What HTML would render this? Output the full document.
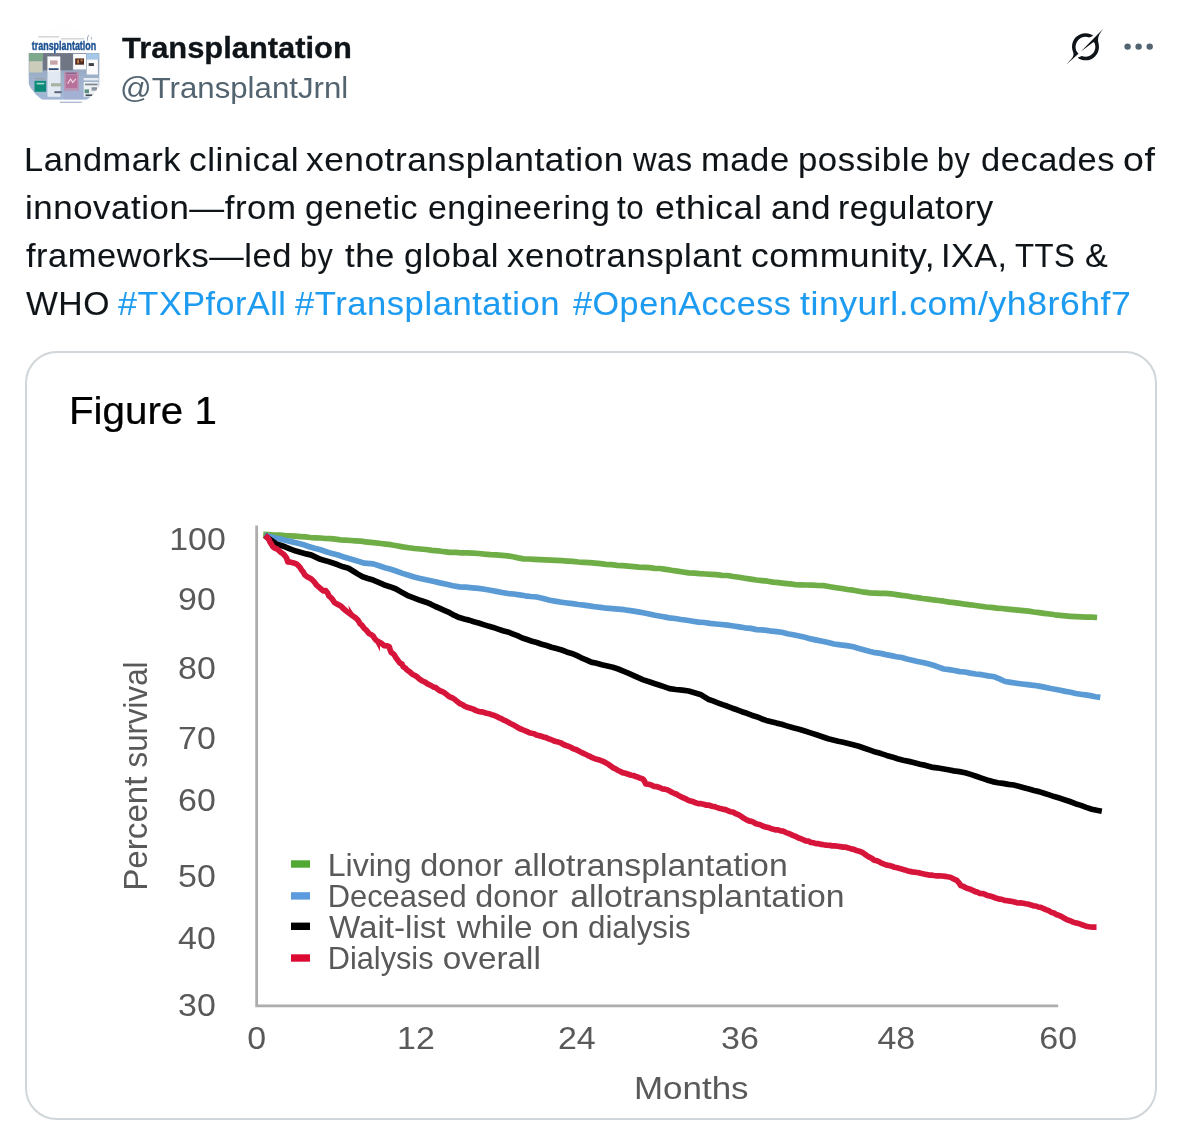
<!DOCTYPE html>
<html lang="en">
<head>
<meta charset="utf-8">
<title>Transplantation on X</title>
<style>
html,body{margin:0;padding:0;background:#fff;}
body{width:1180px;height:1136px;position:relative;overflow:hidden;font-family:"Liberation Sans",Arial,sans-serif;color:#0f1419;}
.abs{position:absolute;white-space:nowrap;}
.t{position:absolute;white-space:nowrap;transform-origin:0 0;display:inline-block;}
#name{left:121.5px;top:27.8px;font-size:29.6px;line-height:40px;font-weight:bold;color:#0f1419;transform:scaleX(1.043);-webkit-text-stroke:0.3px currentColor;}
#handle{left:119.6px;top:67.9px;font-size:30px;line-height:40px;color:#536471;transform:scaleX(1.04);}
.ln{position:absolute;left:0;width:1180px;height:48px;font-size:32.5px;line-height:48px;color:#0f1419;letter-spacing:0.5px;-webkit-text-stroke:0.08px currentColor;}
.w{position:absolute;top:0;white-space:pre;transform-origin:0 0;display:inline-block;}
.lk{color:#1d9bf0;text-decoration:none;}
#card{position:absolute;left:25px;top:351px;width:1128px;height:765px;border:2px solid #d0d6d9;border-radius:32px;background:#fff;}
#chart{position:absolute;left:0;top:0;}
#chart text{font-family:"Liberation Sans",Arial,sans-serif;fill:#595959;}
#chart .cv path{fill:none;stroke-width:5.7;stroke-linejoin:round;stroke-linecap:butt;}
</style>
</head>
<body>
<svg id="avatar" class="abs" style="left:24px;top:26px" width="81" height="81" viewBox="24 26 81 81">
<defs>
<clipPath id="avc"><circle cx="64.5" cy="66.2" r="40.3"/></clipPath>
<linearGradient id="avbg" x1="0" y1="0" x2="0" y2="1"><stop offset="0" stop-color="#8c98ab"/><stop offset="0.5" stop-color="#9db1cb"/><stop offset="1" stop-color="#a3b8d6"/></linearGradient>
<filter id="avblur" x="-5%" y="-5%" width="110%" height="110%"><feGaussianBlur stdDeviation="0.6"/></filter>
</defs>
<g clip-path="url(#avc)">
<rect x="24" y="26" width="81" height="81" fill="#fefefe"/>
<g filter="url(#avblur)">
<rect x="38.2" y="36.3" width="21" height="1.1" fill="#c4c8ce"/>
<rect x="61" y="38.3" width="23.3" height="1.1" fill="#c4c8ce"/>
<path d="M89.6,34 q-4.2,3.6 -1.4,8.4 q-1.2,-4.6 1.4,-8.400000000000001z" fill="#7c8ea3"/>
<path d="M91.2,35.6 q1.8,2.6 0,5.4 q0.5,-2.8 0,-5.4z" fill="#6f86a0"/>
<rect x="28.7" y="53" width="70.6" height="46.6" fill="url(#avbg)"/>
<rect x="29" y="53.3" width="14" height="7.6" fill="#7fa98b"/>
<rect x="29.3" y="61.3" width="13" height="11.2" fill="#ccccbb"/>
<rect x="43" y="53.3" width="29.8" height="17" fill="#6f7683"/>
<rect x="47.5" y="71.7" width="13" height="25.1" fill="#e3e9f2"/>
<rect x="47.4" y="56.4" width="12.9" height="15.4" fill="#fbfbfc"/>
<rect x="50.1" y="60.4" width="7.5" height="4.3" fill="#c5a3a8"/>
<rect x="48.7" y="68.2" width="9.9" height="1.9" fill="#33507c"/>
<rect x="51" y="83.2" width="10.6" height="3.2" fill="#a9b3a4"/>
<rect x="54.4" y="91.2" width="7.2" height="2" fill="#59657a"/>
<rect x="73.2" y="54" width="12.8" height="15.4" fill="#fbfbfc"/>
<rect x="75.2" y="58.4" width="8.8" height="6.3" fill="#4e2a22"/>
<rect x="77.2" y="59.6" width="1.8" height="3.8" fill="#c9824e"/>
<rect x="80.6" y="59.4" width="2" height="2" fill="#c9824e"/>
<rect x="86.4" y="53.3" width="12.4" height="6.3" fill="#a5c8e8"/>
<rect x="86.7" y="59.5" width="11.2" height="15" fill="#fbfbfc"/>
<rect x="88.7" y="63.1" width="5.2" height="2.9" fill="#3e4046"/>
<rect x="64" y="71.7" width="15" height="19.2" fill="#b994b3"/>
<rect x="65.8" y="74.6" width="11.4" height="13.4" fill="#b6709a"/>
<rect x="65.6" y="72.6" width="11" height="1.2" fill="#7d5a86"/>
<path d="M67.6,83.6 l3,-4.6 l2.2,3.4 l3,-3.600000000000001" stroke="#f0d2e2" stroke-width="1.2" fill="none"/>
<rect x="64" y="90.8" width="19.6" height="8.4" fill="#a3b2d4"/>
<rect x="34.8" y="77.8" width="10.8" height="1.6" fill="#9aa5ad"/>
<rect x="34.5" y="80.8" width="11.6" height="11" fill="#108a77"/>
<rect x="36.6" y="82.8" width="7.6" height="1.6" fill="#9fdacb"/>
<rect x="83.7" y="78" width="14.9" height="2.4" fill="#e6ecf2"/>
<rect x="83.7" y="82" width="14.9" height="14.8" fill="#eef1f4"/>
<rect x="84.6" y="89.4" width="4.4" height="3.8" fill="#5d8f80"/>
<rect x="85" y="83.6" width="12.6" height="1.7" fill="#7d8792"/>
<rect x="91.6" y="87.2" width="5.4" height="3.4" fill="#8a949e"/>
<rect x="85.6" y="94.4" width="7" height="1.7" fill="#3e4854"/>
<rect x="59.9" y="101.7" width="22.4" height="1.1" fill="#9dabc6"/>
</g>
<text x="31.8" y="50.2" font-family="'Liberation Sans',Arial,sans-serif" font-weight="bold" font-size="12.8" fill="#1a4f90" stroke="#1a4f90" stroke-width="0.4" textLength="64.4" lengthAdjust="spacingAndGlyphs">transplantation</text>
</g>
</svg>

<div id="name" class="t">Transplantation</div>
<div id="handle" class="t">@TransplantJrnl</div>
<div class="ln" id="l1" style="top:135.9px"><span class="w" style="left:24.33px;transform:scaleX(1.0574)">Landmark </span><span class="w" style="left:189.41px;transform:scaleX(1.0851)">clinical </span><span class="w" style="left:306.42px;transform:scaleX(1.0845)">xenotransplantation </span><span class="w" style="left:633.2px;transform:scaleX(1.0052)">was </span><span class="w" style="left:701.27px;transform:scaleX(1.0642)">made </span><span class="w" style="left:797.56px;transform:scaleX(1.0695)">possible </span><span class="w" style="left:937.42px;transform:scaleX(0.9385)">by </span><span class="w" style="left:981.34px;transform:scaleX(1.0605)">decades </span><span class="w" style="left:1122.85px;transform:scaleX(1.1547)">of</span></div>
<div class="ln" id="l2" style="top:183.9px"><span class="w" style="left:24.65px;transform:scaleX(1.0727)">innovation—from </span><span class="w" style="left:304.76px;transform:scaleX(1.0443)">genetic </span><span class="w" style="left:427.76px;transform:scaleX(1.039)">engineering </span><span class="w" style="left:617.0px;transform:scaleX(0.9623)">to </span><span class="w" style="left:655.1px;transform:scaleX(1.1021)">ethical </span><span class="w" style="left:770.92px;transform:scaleX(1.0788)">and </span><span class="w" style="left:837.92px;transform:scaleX(1.041)">regulatory</span></div>
<div class="ln" id="l3" style="top:231.9px"><span class="w" style="left:26.1px;transform:scaleX(1.06)">frameworks—led </span><span class="w" style="left:299.52px;transform:scaleX(0.9385)">by </span><span class="w" style="left:344.7px;transform:scaleX(1.0711)">the </span><span class="w" style="left:403.94px;transform:scaleX(1.059)">global </span><span class="w" style="left:506.73px;transform:scaleX(1.0673)">xenotransplant </span><span class="w" style="left:750.91px;transform:scaleX(1.0912)">community, </span><span class="w" style="left:940.85px;transform:scaleX(1.0504)">IXA, </span><span class="w" style="left:1015.34px;transform:scaleX(0.96)">TTS </span><span class="w" style="left:1084.75px;transform:scaleX(1.05)">&amp;</span></div>
<div class="ln" id="l4" style="top:279.9px"><span class="w" style="left:26.0px;transform:scaleX(1.038)">WHO </span><span class="w lk" style="left:118.0px;transform:scaleX(1.0508)">#TXPforAll </span><span class="w lk" style="left:295.0px;transform:scaleX(1.0649)">#Transplantation </span><span class="w lk" style="left:572.5px;transform:scaleX(1.051)">#OpenAccess </span><span class="w lk" style="left:800.0px;transform:scaleX(1.0948)">tinyurl.com/yh8r6hf7</span></div>
<div id="card"></div>
<svg id="chart" width="1180" height="1136" viewBox="0 0 1180 1136">
<text id="fig" transform="translate(68.9,424.1) scale(1.035,1)" font-size="39" style="fill:#000;stroke:#000;stroke-width:0.25">Figure 1</text>
<g font-size="31.6" text-anchor="middle">
<text transform="translate(197.5,550) scale(1.075,1)">100</text>
<text transform="translate(197,610) scale(1.075,1)">90</text>
<text transform="translate(197,679.4) scale(1.075,1)">80</text>
<text transform="translate(197,749.2) scale(1.075,1)">70</text>
<text transform="translate(197,811.2) scale(1.075,1)">60</text>
<text transform="translate(197,887.4) scale(1.075,1)">50</text>
<text transform="translate(197,949.2) scale(1.075,1)">40</text>
<text transform="translate(197,1016) scale(1.075,1)">30</text>
<text transform="translate(256.7,1048.6) scale(1.075,1)">0</text>
<text transform="translate(415.9,1048.6) scale(1.075,1)">12</text>
<text transform="translate(576.8,1048.6) scale(1.075,1)">24</text>
<text transform="translate(739.9,1048.6) scale(1.075,1)">36</text>
<text transform="translate(896.3,1048.6) scale(1.075,1)">48</text>
<text transform="translate(1058.2,1048.6) scale(1.075,1)">60</text>
</g>
<text id="months" transform="translate(634,1098.6) scale(1.099,1)" font-size="31.8">Months</text>
<g id="ylab" transform="translate(146.6,887.8) rotate(-90)" font-size="32.5" style="white-space:pre"><text transform="translate(-3.07,0) scale(1.022,1)">Percent </text><text transform="translate(120.34,0) scale(0.9617,1)">survival</text></g>
<path d="M256.65,525.6 V1005.9 H1058.2" fill="none" stroke="#adadad" stroke-width="2.8"/>
<g class="cv">
<path d="M263.2,534.4 L268.7,534.7 L274.2,535.0 L279.7,535.1 L285.1,535.6 L290.2,535.8 L295.3,536.2 L300.3,536.6 L305.3,536.9 L310.4,537.5 L315.4,537.8 L320.4,538.0 L325.5,538.5 L330.4,538.7 L335.5,539.2 L340.5,539.8 L345.6,540.2 L350.6,540.5 L355.6,540.9 L360.7,541.2 L365.6,541.8 L370.8,542.4 L375.7,542.9 L380.7,543.5 L385.7,544.1 L390.8,544.7 L396.7,545.8 L402.7,546.9 L408.5,547.7 L414.4,548.5 L420.2,549.0 L426.0,549.5 L432.0,550.3 L438.0,550.8 L444.1,551.7 L449.9,552.3 L455.7,552.4 L461.4,552.8 L467.3,552.9 L473.0,553.2 L478.7,553.5 L484.6,554.2 L490.3,554.7 L496.1,554.9 L502.0,555.3 L507.8,555.9 L513.0,556.8 L518.1,557.9 L523.3,558.9 L528.8,559.0 L534.3,559.3 L539.8,559.6 L545.2,559.8 L550.8,560.1 L556.2,560.4 L561.7,560.7 L567.3,561.1 L572.8,561.4 L578.3,562.0 L583.8,562.4 L589.4,562.7 L594.9,563.2 L600.5,563.7 L606.0,564.3 L611.5,564.6 L617.1,565.3 L622.6,565.7 L628.2,566.1 L633.7,566.6 L638.9,567.1 L644.2,567.4 L649.5,567.7 L654.8,568.3 L660.0,568.5 L665.8,569.4 L671.4,570.3 L677.2,571.1 L682.9,572.0 L688.8,572.9 L694.3,573.2 L699.8,573.7 L705.4,574.0 L710.8,574.3 L716.4,574.7 L722.0,575.3 L727.5,575.5 L733.3,576.5 L739.1,577.3 L744.8,578.2 L750.7,579.1 L756.5,580.0 L762.0,580.6 L767.6,581.2 L773.0,582.1 L778.7,582.7 L784.1,583.3 L789.7,583.8 L795.2,584.6 L801.0,584.8 L806.8,585.0 L812.6,585.2 L818.5,585.5 L824.3,585.7 L830.2,586.8 L836.0,587.7 L841.8,588.5 L847.4,589.5 L853.3,590.2 L858.9,591.2 L864.4,592.2 L870.0,592.9 L875.2,593.2 L880.5,593.4 L885.8,593.4 L891.1,593.8 L896.3,594.6 L901.7,595.4 L907.0,596.0 L912.3,597.0 L917.4,597.6 L922.8,598.5 L928.1,599.2 L933.4,599.8 L938.6,600.5 L943.9,601.2 L949.3,602.1 L954.4,602.7 L959.8,603.4 L965.0,604.2 L970.4,604.8 L975.6,605.5 L980.9,606.3 L986.2,607.0 L991.4,607.4 L996.8,608.1 L1002.1,608.5 L1007.4,609.1 L1012.6,609.6 L1017.9,610.2 L1023.2,610.7 L1028.5,611.1 L1033.8,612.0 L1039.0,612.6 L1044.3,613.4 L1049.6,614.0 L1054.9,614.8 L1060.1,615.4 L1065.3,615.9 L1070.7,616.3 L1076.0,616.6 L1081.3,616.9 L1086.5,617.1 L1091.8,617.2 L1097.1,617.5" stroke="#6fae47" />
<path d="M264.5,535.0 L267.5,536.0 L273.4,537.4 L279.2,538.8 L285.3,540.3 L291.1,541.6 L296.9,543.0 L302.7,544.4 L308.6,546.5 L314.6,548.3 L320.5,549.8 L326.2,551.7 L332.2,553.6 L338.1,555.0 L343.9,557.1 L349.7,558.8 L355.6,560.6 L364.5,563.2 L373.2,563.9 L379.1,565.8 L385.0,567.7 L390.8,569.3 L396.7,571.3 L402.5,573.4 L408.6,575.3 L414.2,577.0 L420.1,578.4 L426.0,579.8 L433.1,581.3 L440.0,582.9 L446.5,584.2 L452.9,585.7 L459.4,586.9 L465.9,587.2 L472.2,587.8 L478.8,588.4 L484.5,589.3 L490.3,590.3 L496.1,591.4 L502.1,592.5 L507.8,593.5 L513.5,594.0 L519.5,594.9 L525.2,595.8 L531.0,596.5 L536.8,597.0 L543.3,598.5 L549.7,600.3 L556.2,601.4 L561.6,602.2 L567.3,603.0 L572.7,603.7 L578.4,604.5 L583.8,605.1 L589.3,605.9 L594.9,606.7 L600.6,607.4 L606.5,608.2 L612.3,608.6 L618.2,609.1 L624.1,609.7 L630.4,610.6 L636.8,611.6 L643.2,612.8 L649.2,614.0 L654.9,615.3 L662.1,616.5 L669.3,617.9 L675.1,618.5 L681.1,619.5 L686.9,620.3 L692.7,621.2 L698.5,622.1 L704.2,622.5 L710.0,623.4 L715.9,624.0 L721.6,624.5 L727.6,625.2 L733.4,626.0 L739.1,626.9 L744.9,627.8 L750.8,628.4 L756.6,629.6 L761.6,629.8 L766.7,630.4 L771.7,631.2 L776.6,631.6 L781.7,632.3 L787.5,633.8 L793.2,634.7 L799.2,636.0 L805.0,637.3 L810.8,638.9 L816.6,640.1 L822.4,641.2 L828.2,642.6 L834.1,644.0 L840.4,644.9 L846.8,645.6 L853.3,646.8 L858.9,648.4 L864.4,649.9 L870.1,651.5 L875.2,652.7 L880.6,653.4 L885.9,654.6 L891.2,655.6 L896.4,656.7 L901.8,657.5 L906.9,659.0 L912.3,660.2 L917.5,661.5 L922.9,662.5 L928.2,663.7 L933.4,665.2 L938.6,667.1 L943.8,669.0 L949.1,669.6 L954.5,670.5 L959.8,671.6 L965.1,672.0 L970.3,673.1 L975.6,674.0 L981.9,674.7 L988.2,675.9 L994.6,676.8 L1000.0,679.2 L1005.2,681.5 L1010.8,682.4 L1016.5,683.2 L1022.1,684.0 L1027.8,684.7 L1033.4,685.3 L1039.1,686.1 L1044.3,687.1 L1049.5,688.2 L1054.9,689.2 L1060.2,690.3 L1065.4,691.4 L1070.7,692.3 L1075.6,693.5 L1080.5,694.2 L1085.5,694.9 L1090.3,695.6 L1095.5,696.7 L1100.3,697.4" stroke="#5b9bd5" />
<path d="M265.0,535.5 L267.6,537.7 L272.1,540.9 L276.4,544.0 L285.1,546.8 L290.6,549.1 L295.9,551.1 L301.1,552.5 L306.3,553.9 L311.5,555.1 L320.4,559.3 L326.3,560.9 L332.2,562.8 L338.0,564.8 L343.2,566.8 L348.5,568.3 L353.4,571.3 L358.0,574.1 L362.7,576.8 L367.9,578.5 L373.2,580.1 L378.6,582.3 L383.8,584.7 L389.9,586.7 L396.1,589.0 L402.2,592.6 L408.5,595.9 L414.4,598.1 L420.1,600.3 L426.0,602.2 L430.8,604.2 L435.4,606.5 L439.9,608.4 L444.8,610.6 L449.6,612.7 L454.5,615.4 L459.3,617.6 L464.3,619.0 L469.0,620.1 L473.9,621.7 L478.6,623.0 L483.6,624.6 L488.3,626.1 L493.2,627.4 L498.1,629.1 L502.9,630.7 L507.8,631.9 L512.6,633.8 L517.4,635.7 L522.3,638.0 L527.0,639.5 L532.0,641.2 L536.8,642.5 L541.7,644.2 L546.5,645.5 L551.5,647.2 L556.5,648.6 L561.7,650.0 L566.7,651.9 L571.7,653.4 L576.5,655.4 L581.3,657.8 L586.2,659.8 L591.2,662.1 L596.6,663.3 L601.9,664.8 L607.4,666.0 L612.8,667.3 L618.2,669.0 L623.3,671.1 L628.2,673.1 L633.2,675.3 L638.3,677.7 L643.3,679.9 L649.2,681.8 L655.0,683.7 L659.8,685.3 L664.6,686.9 L669.5,688.6 L675.8,689.5 L682.3,690.2 L688.6,691.0 L694.5,692.7 L700.4,694.4 L708.1,699.2 L712.9,700.9 L717.8,702.8 L722.6,704.6 L727.5,706.3 L732.4,708.2 L737.1,709.8 L741.9,711.7 L746.9,713.3 L751.7,715.2 L756.5,716.7 L761.4,718.7 L766.2,720.4 L771.4,721.8 L776.6,723.1 L781.6,724.2 L787.5,726.1 L793.2,727.8 L799.1,729.2 L804.9,731.0 L810.6,732.9 L816.5,734.8 L822.3,736.7 L828.2,738.8 L833.2,740.0 L838.2,741.3 L843.2,742.2 L848.2,743.4 L853.2,744.7 L858.8,746.3 L864.5,748.2 L870.0,750.1 L875.5,752.1 L881.1,753.6 L886.6,755.4 L892.0,756.9 L897.5,758.8 L903.2,760.3 L908.8,761.4 L914.5,762.7 L920.0,764.2 L925.7,765.4 L931.3,767.1 L936.9,767.8 L942.5,768.7 L948.3,769.8 L953.9,770.9 L959.5,771.6 L965.2,772.7 L970.6,774.4 L976.2,776.3 L981.5,778.1 L986.9,779.9 L992.5,781.6 L997.9,782.7 L1003.0,783.4 L1008.4,784.4 L1013.8,785.0 L1018.7,786.3 L1023.9,787.7 L1028.9,789.1 L1034.0,790.5 L1039.0,791.6 L1044.1,793.3 L1049.2,794.9 L1054.2,796.6 L1059.3,798.1 L1064.4,799.7 L1069.8,801.5 L1075.4,803.7 L1080.9,805.4 L1086.2,807.4 L1091.8,809.2 L1096.8,810.3 L1101.8,811.2" stroke="#000000" />
<path d="M265.0,535.5 L267.8,538.0 L268.9,539.5 L270.0,542.2 L271.6,544.5 L272.8,546.7 L274.8,548.1 L277.1,549.0 L279.0,550.7 L280.9,552.4 L283.3,554.0 L285.4,556.3 L286.8,558.6 L287.8,561.9 L290.7,562.2 L293.0,562.8 L296.1,563.7 L298.4,565.7 L300.0,567.4 L301.6,570.2 L303.4,572.2 L304.7,574.8 L306.9,576.6 L308.6,577.4 L311.1,578.8 L313.0,580.5 L315.2,583.1 L316.7,585.3 L318.8,586.9 L321.0,589.1 L323.2,590.8 L325.8,590.7 L327.6,593.0 L329.1,596.3 L331.1,597.8 L332.7,599.7 L334.3,602.3 L336.0,603.5 L338.7,604.9 L341.1,606.2 L343.3,608.5 L345.9,610.7 L348.6,612.8 L352.2,615.5 L355.6,617.9 L357.0,619.1 L358.7,621.3 L360.0,623.8 L362.0,625.3 L364.2,628.4 L366.6,630.4 L369.0,633.5 L371.0,634.5 L373.4,636.3 L374.5,638.3 L376.0,640.1 L378.6,641.8 L381.5,643.3 L384.1,645.6 L386.8,645.8 L389.2,646.6 L390.0,649.4 L391.2,652.5 L392.6,653.2 L394.4,655.0 L395.8,657.6 L397.8,660.2 L399.9,663.0 L401.8,663.8 L403.1,666.6 L405.0,667.8 L407.1,670.0 L409.0,671.3 L410.8,672.8 L412.9,674.7 L415.3,675.6 L417.4,677.1 L419.6,679.2 L422.4,681.0 L425.1,682.2 L427.5,683.9 L430.2,685.1 L433.3,686.9 L435.6,687.6 L437.8,689.3 L439.8,690.7 L442.7,691.7 L445.2,693.3 L447.4,695.2 L449.7,696.9 L452.6,698.0 L455.0,699.6 L457.3,701.6 L459.7,703.5 L462.4,704.6 L465.0,706.4 L468.0,707.5 L470.5,708.2 L473.3,709.1 L476.2,710.6 L478.9,711.5 L481.2,711.8 L483.9,712.4 L486.5,713.3 L489.0,713.7 L491.5,714.7 L494.0,715.3 L496.3,716.3 L498.6,717.6 L501.0,718.5 L503.2,719.8 L505.7,720.8 L507.7,721.9 L510.0,723.3 L512.5,724.5 L514.6,725.6 L517.0,727.0 L519.5,728.5 L522.1,729.5 L524.7,730.6 L527.2,731.6 L529.5,732.8 L531.7,733.3 L534.2,733.7 L536.4,734.9 L538.8,735.6 L541.2,736.1 L543.5,737.0 L546.1,737.6 L548.4,738.8 L550.8,739.5 L553.5,740.7 L555.8,741.5 L558.3,742.1 L561.1,743.0 L563.5,744.5 L566.0,745.5 L568.4,746.2 L570.7,747.3 L573.3,748.8 L575.7,749.4 L578.0,750.6 L580.5,752.0 L583.0,753.1 L585.3,754.2 L587.5,755.3 L589.8,756.3 L592.3,757.7 L594.8,758.7 L597.6,759.4 L600.0,760.2 L602.3,761.1 L604.7,762.2 L607.1,763.5 L609.2,764.9 L611.2,766.3 L613.3,767.9 L615.5,768.9 L617.7,770.2 L619.8,771.2 L622.5,772.6 L625.3,773.2 L628.3,774.2 L631.2,775.2 L633.4,775.5 L635.8,776.5 L638.3,777.3 L640.6,778.3 L642.9,779.0 L644.4,781.0 L645.7,783.9 L648.6,784.3 L651.2,785.0 L654.1,786.4 L657.0,786.7 L659.5,787.5 L662.2,788.8 L664.9,789.1 L667.4,789.9 L670.1,791.2 L672.3,792.5 L674.5,793.5 L676.8,794.3 L679.2,795.8 L681.3,796.9 L683.6,798.0 L685.6,798.7 L687.9,800.1 L690.4,801.0 L693.0,801.6 L695.7,802.8 L698.2,803.6 L701.1,803.7 L703.7,804.2 L706.6,805.2 L709.1,805.2 L712.0,806.2 L714.5,806.6 L716.6,807.4 L719.1,808.2 L721.5,808.8 L724.0,809.4 L726.4,809.9 L728.5,811.0 L730.8,811.7 L733.2,812.1 L735.4,813.5 L737.7,814.4 L739.9,815.5 L742.2,817.1 L744.4,818.6 L746.8,819.9 L748.9,820.9 L751.4,821.4 L753.5,822.2 L756.0,823.7 L758.1,824.2 L760.2,824.7 L762.7,826.0 L765.0,826.9 L767.1,827.3 L769.8,828.1 L772.5,829.1 L775.2,829.8 L778.0,829.8 L780.8,830.9 L783.4,831.2 L786.0,832.6 L788.4,833.4 L790.8,834.4 L793.4,835.6 L795.9,836.5 L798.6,838.1 L801.1,838.8 L803.6,839.8 L805.8,840.8 L808.4,841.1 L810.8,842.4 L813.3,842.8 L815.9,843.6 L818.7,843.7 L821.3,844.4 L824.1,844.8 L826.7,845.1 L829.6,845.3 L832.2,845.9 L834.8,845.8 L837.8,846.2 L840.3,846.6 L843.2,847.1 L845.9,847.2 L848.4,847.9 L851.1,848.9 L853.9,849.4 L856.5,850.6 L859.3,851.3 L861.9,852.2 L864.4,853.9 L866.8,855.6 L869.4,857.2 L871.8,858.3 L874.2,860.2 L876.8,860.8 L879.0,861.6 L881.7,863.2 L884.1,864.1 L886.7,865.1 L889.3,865.5 L892.0,866.3 L894.5,867.2 L897.3,867.7 L899.9,868.6 L902.3,869.2 L904.8,869.9 L907.3,870.7 L909.9,871.4 L912.3,871.9 L914.7,872.2 L916.9,872.5 L919.5,872.9 L921.7,873.5 L924.2,874.1 L926.6,874.5 L928.8,875.1 L931.4,875.1 L934.0,875.5 L936.6,875.8 L939.6,875.8 L942.2,876.0 L945.0,876.3 L947.5,876.8 L950.3,877.2 L952.4,878.2 L954.4,879.4 L956.6,880.2 L958.8,882.7 L960.8,885.5 L963.2,886.3 L965.6,887.7 L967.8,888.6 L970.4,889.3 L972.8,890.4 L975.2,891.6 L977.5,892.1 L979.9,893.5 L982.4,893.6 L984.9,894.3 L987.3,895.4 L989.9,896.1 L992.5,896.8 L995.0,897.7 L997.3,898.4 L999.8,899.2 L1002.4,899.5 L1004.7,900.5 L1007.2,900.7 L1010.1,901.1 L1012.4,901.5 L1015.3,902.3 L1017.9,903.0 L1020.5,902.9 L1023.4,903.3 L1025.7,903.8 L1028.7,904.3 L1030.9,904.9 L1033.4,905.8 L1035.9,906.0 L1038.2,907.0 L1040.8,907.4 L1043.1,908.3 L1045.9,909.6 L1048.6,910.7 L1051.0,912.2 L1053.9,912.9 L1056.1,914.5 L1058.7,915.3 L1061.2,916.4 L1063.5,917.8 L1065.8,919.1 L1068.3,920.3 L1070.8,921.0 L1073.1,922.1 L1075.5,922.9 L1077.8,923.3 L1080.4,924.1 L1082.7,925.0 L1085.2,925.9 L1087.6,926.5 L1090.5,927.0 L1093.7,927.2 L1096.5,927.2" stroke="#d7153a" />
<path d="M348.2,605.3 L350,613.4 L354.4,614.2 Z M380,651.6 L372.6,637.4 L380,642.4 Z" style="fill:#d7153a;stroke:none" />
</g>
<g>
<rect x="291" y="860.3" width="19" height="7.4" fill="#51a832"/>
<rect x="291" y="892.2" width="19" height="7.4" fill="#5b9bde"/>
<rect x="291" y="922.6" width="19" height="7.4" fill="#000"/>
<rect x="291" y="954.3" width="19" height="7.4" fill="#dc0a32"/>
</g>
<g font-size="31.4" style="white-space:pre">
<g><text transform="translate(327.65,875.6) scale(1.0231,1)">Living </text><text transform="translate(420.17,875.6) scale(1.0304,1)">donor </text><text transform="translate(513.42,875.6) scale(1.0766,1)">allotransplantation</text></g>
<g><text transform="translate(327.73,906.6) scale(0.9832,1)">Deceased </text><text transform="translate(475.37,906.6) scale(1.0291,1)">donor </text><text transform="translate(570.22,906.6) scale(1.077,1)">allotransplantation</text></g>
<g><text transform="translate(328.9,937.6) scale(1.0564,1)">Wait-list </text><text transform="translate(456.8,937.6) scale(1.06,1)">while </text><text transform="translate(541.42,937.6) scale(1.0781,1)">on </text><text transform="translate(588.0,937.6) scale(0.997,1)">dialysis</text></g>
<g><text transform="translate(327.74,968.8) scale(0.9781,1)">Dialysis </text><text transform="translate(442.74,968.8) scale(1.0607,1)">overall</text></g>
</g>
</svg>
<svg id="grok" class="abs" style="left:1067px;top:29px" width="36" height="35" viewBox="0 0 33 32"><path fill="#0f1419" d="M12.745 20.54l10.97-8.19c.539-.4 1.307-.244 1.564.38 1.349 3.288.746 7.241-1.938 9.955-2.683 2.714-6.417 3.31-9.83 1.954l-3.728 1.745c5.347 3.697 11.84 2.782 15.898-1.324 3.219-3.255 4.216-7.692 3.284-11.693l.008.009c-1.351-5.878.332-8.227 3.782-13.031L33 0l-4.54 4.59v-.014L12.743 20.544m-2.263 1.987c-3.837-3.707-3.175-9.446.1-12.755 2.42-2.449 6.388-3.448 9.852-1.979l3.72-1.737c-.67-.49-1.53-1.017-2.515-1.387-4.455-1.854-9.789-.931-13.41 2.728-3.483 3.523-4.579 8.94-2.697 13.561 1.405 3.454-.899 5.898-3.22 8.364C1.49 30.2.666 31.074 0 32l10.478-9.466"/></svg>
<svg id="dots" class="abs" style="left:1120px;top:40px" width="40" height="14" viewBox="0 0 40 14"><g fill="#536471"><circle cx="7.6" cy="6.6" r="3.2"/><circle cx="18.6" cy="6.6" r="3.2"/><circle cx="29.7" cy="6.6" r="3.2"/></g></svg>
</body>
</html>
